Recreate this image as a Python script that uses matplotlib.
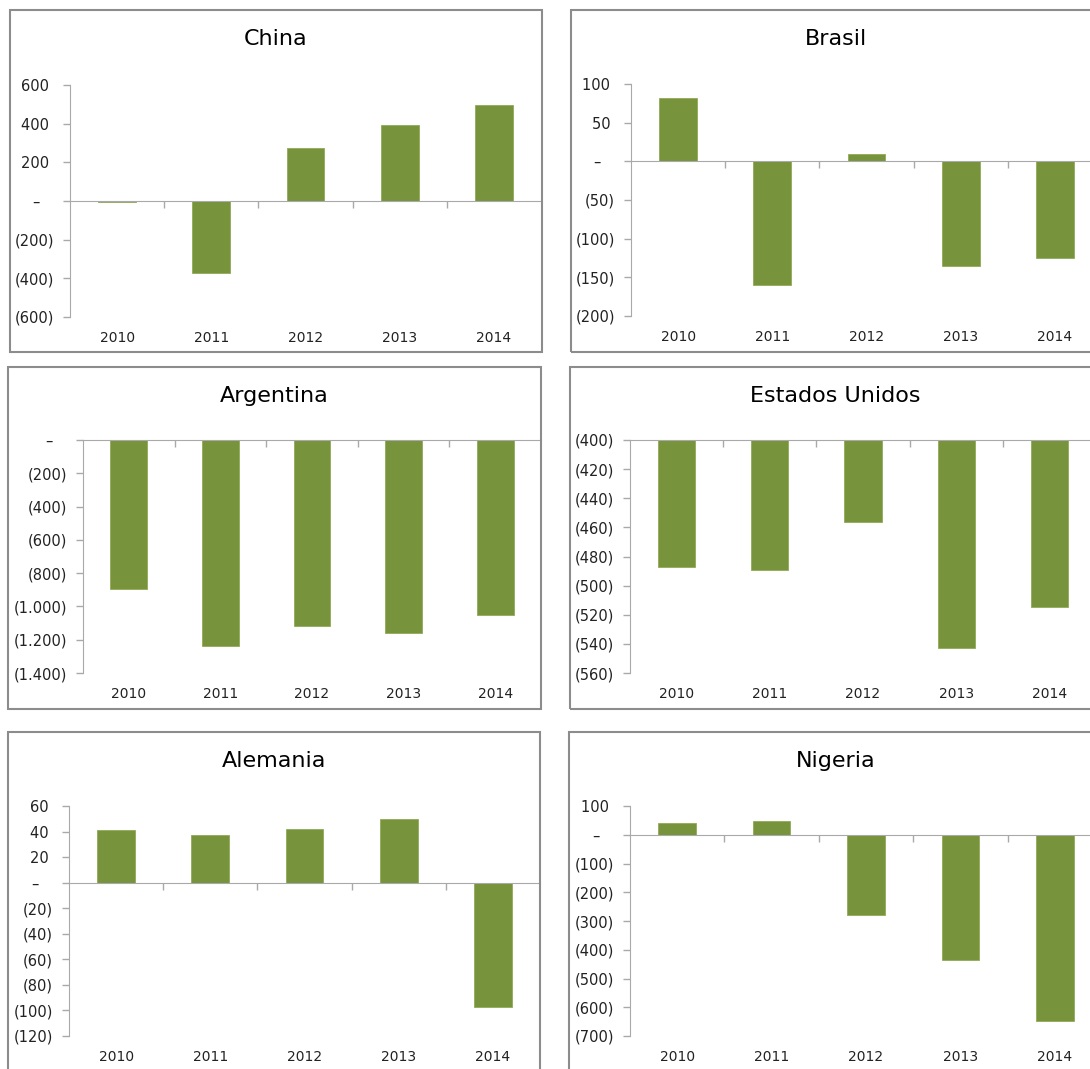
import numpy as np
import matplotlib
matplotlib.use("Agg")
import matplotlib.pyplot as plt
from matplotlib.patches import Rectangle
from matplotlib.ticker import FuncFormatter, FixedLocator

# --- datos (millones) ---
years = ['2010', '2011', '2012', '2013', '2014']
china = [-7, -372, 276, 391, 499]
brasil = [82, -160, 9, -135, -125]
argentina = [-896, -1236, -1116, -1160, -1052]
estados_unidos = [-487, -489, -456, -543, -515]
alemania = [41, 37, 42, 50, -97]
nigeria = [41, 49, -278, -435, -647]

W, H = 1090, 1069
BAR = '#77933C'
GRIS = '#a9a9a9'
BORDE = '#8c8c8c'

plt.rcParams['font.family'] = ['DejaVu Sans']
fig = plt.figure(figsize=(W / 100, H / 100), dpi=100)


def fmt(v, pos=None):
    # formato contable: (negativos), guion para cero, punto de miles
    v = int(round(v))
    if v == 0:
        return '\u2013   '
    s = '{:,}'.format(abs(v)).replace(',', '.')
    if v < 0:
        return '(' + s + ')'
    return s + ' '


# (titulo, valores, ylim, paso, caja px, area px)
paneles = [
    ('China', china, (-600, 600), 200, (9.5, 10, 541.5, 352), (70, 85, 541, 317)),
    ('Brasil', brasil, (-200, 100), 50, (570.5, 10, 1102, 352), (631, 84, 1102, 316)),
    ('Argentina', argentina, (-1400, 0), 200, (8, 367, 541, 709), (83, 440, 541, 673)),
    ('Estados Unidos', estados_unidos, (-560, -400), 20, (569.5, 367, 1102, 709), (630, 440, 1096, 673)),
    ('Alemania', alemania, (-120, 60), 20, (7.5, 732, 540, 1090), (69, 806, 540, 1036)),
    ('Nigeria', nigeria, (-700, 100), 100, (568.5, 732, 1102, 1090), (630, 806, 1102, 1036)),
]

for titulo, vals, ylim, paso, caja, area in paneles:
    bx0, by0, bx1, by1 = caja
    fig.patches.append(Rectangle((bx0 / W, 1 - by1 / H), (bx1 - bx0) / W, (by1 - by0) / H,
                                 transform=fig.transFigure, fill=False,
                                 edgecolor=BORDE, linewidth=1.5, clip_on=False))
    fig.text((bx0 + bx1) / 2 / W, 1 - (by0 + 29) / H, titulo, ha='center', va='center',
             fontsize=16, color='black')

    x0, y0, x1, y1 = area
    ax = fig.add_axes([x0 / W, 1 - y1 / H, (x1 - x0) / W, (y1 - y0) / H])
    ax.patch.set_alpha(0)

    base = 0 if ylim[0] <= 0 <= ylim[1] else ylim[1]
    x = np.arange(len(years))
    v = np.array(vals, dtype=float)
    ax.bar(x, v - base, bottom=base, width=0.4, color=BAR, edgecolor='#8fab55',
           linewidth=0.6, zorder=2)

    ax.set_xlim(-0.5, len(years) - 0.5)
    ax.set_ylim(*ylim)

    for s in ['top', 'right']:
        ax.spines[s].set_visible(False)
    ax.spines['left'].set_color(GRIS)
    ax.spines['bottom'].set_color(GRIS)
    ax.spines['bottom'].set_position(('data', base))
    ax.spines['bottom'].set_zorder(3)

    ax.yaxis.set_major_locator(FixedLocator(np.arange(ylim[0], ylim[1] + paso / 2, paso)))
    ax.yaxis.set_major_formatter(FuncFormatter(fmt))
    ax.tick_params(axis='y', length=5, width=1, color=GRIS, pad=6.5, labelsize=10.5,
                   labelcolor='#222222')

    ax.xaxis.set_major_locator(FixedLocator(x[:-1] + 0.5))
    ax.tick_params(axis='x', length=5, width=1, color=GRIS, direction='out', labelbottom=False)

    for i, yr in enumerate(years):
        ax.annotate(yr, xy=(i, 0), xycoords=('data', 'axes fraction'), xytext=(0, -21),
                    textcoords='offset pixels', ha='center', va='center', fontsize=10,
                    color='#222222')

fig.savefig('out.png', dpi=100)
